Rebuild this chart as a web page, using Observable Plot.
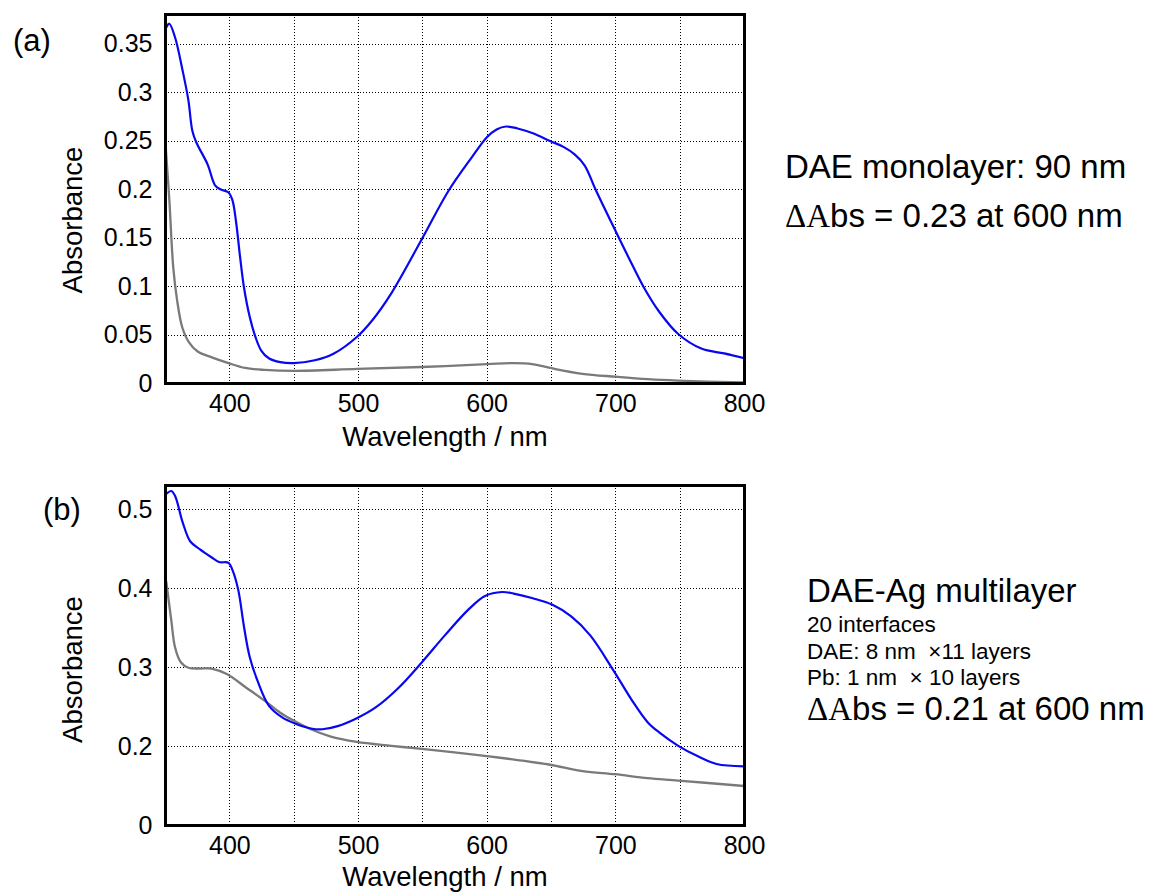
<!DOCTYPE html>
<html><head><meta charset="utf-8">
<script src="https://cdn.jsdelivr.net/npm/d3@7"></script>
<script src="https://cdn.jsdelivr.net/npm/@observablehq/plot@0.6"></script>
<style>
body{margin:0;background:#fff;}
#wrap{position:relative;width:1155px;height:893px;overflow:hidden;background:#fff;font-family:"Liberation Sans",Arial,sans-serif;}
#wrap svg.pl{display:block;}
#ann{position:absolute;left:0;top:0;pointer-events:none;}
</style></head><body><div id="wrap"></div>
<script>
// ---- axes ----
const xTicks = [400, 500, 600, 700, 800];
const gridXs = [400, 450, 500, 550, 600, 650, 700, 750];
const yTicksA = [0, 0.05, 0.1, 0.15, 0.2, 0.25, 0.3, 0.35];
const yLabelsA = ["0", "0.05", "0.1", "0.15", "0.2", "0.25", "0.3", "0.35"];
const yTicksB = [0.1, 0.2, 0.3, 0.4, 0.5];
const yLabelsB = ["0", "0.2", "0.3", "0.4", "0.5"];

// ---- (a) DAE monolayer ----
const aBlueW = [351,353,357.4,363.4,367.8,370.8,373.8,382.7,388.7,393.1,399,402,405,408,411,415.4,419.9,424.4,430.3,439.2,449.6,466,480.9,498.7,510.6,525.5,549.3,570.1,587.9,599.8,607.3,614.7,623.6,635.5,648.9,659.3,668.2,675.7,684.6,699.5,709.9,721.8,733.7,748.5,766.4,784.2,800];
const aBlueA = [0.368,0.371,0.357,0.322,0.292,0.261,0.249,0.226,0.204,0.200,0.197,0.189,0.165,0.130,0.099,0.069,0.048,0.034,0.026,0.022,0.021,0.024,0.031,0.048,0.065,0.093,0.149,0.199,0.233,0.254,0.262,0.265,0.263,0.258,0.250,0.244,0.236,0.225,0.199,0.158,0.130,0.099,0.074,0.051,0.036,0.031,0.026];
const aGrayW = [350,353,356,359,363,368,375,386,399,412,427,450,499,549,600,621,635,649,674,700,725,748,800];
const aGrayA = [0.247,0.189,0.120,0.086,0.058,0.043,0.033,0.027,0.021,0.016,0.014,0.013,0.015,0.017,0.020,0.021,0.020,0.016,0.010,0.007,0.0045,0.003,0.001];

// ---- (b) DAE-Ag multilayer ----
const bBlueW = [351,354.5,357.4,363.4,369.3,376.8,385.7,391.6,399,402,406.5,411,415.4,421.4,430.3,440.7,451.1,463,471.9,483.8,498.7,513.6,531.4,549.3,567.1,585,598.3,611.7,620.6,635.5,650.4,665.3,680.1,698,712.8,724.7,733.7,748.5,763.4,778.3,800];
const bBlueA = [0.521,0.524,0.518,0.484,0.460,0.450,0.440,0.434,0.433,0.424,0.399,0.352,0.314,0.284,0.252,0.237,0.229,0.223,0.222,0.226,0.236,0.250,0.275,0.307,0.341,0.373,0.391,0.396,0.394,0.388,0.380,0.365,0.341,0.297,0.258,0.231,0.218,0.201,0.188,0.178,0.175];
const bGrayW = [350.6,354.5,357.4,361.9,367.8,376.8,385.7,397.6,412.5,427.3,439.2,449.6,463,477.9,498.7,525.5,549.3,599.8,623.6,648.9,674.2,699.5,724.7,748.5,800];
const bGrayA = [0.409,0.360,0.326,0.307,0.300,0.299,0.299,0.292,0.275,0.258,0.243,0.233,0.222,0.213,0.206,0.201,0.197,0.188,0.183,0.177,0.169,0.165,0.160,0.157,0.150];

const zip = (w, a) => w.map((x, i) => ({w: x, a: a[i]}));

function panel({blue, gray, yDomain, yTicks, yLabels, height, marginTop, marginBottom, xLabDy, yLabDy}) {
  const fmt = d => { const i = yTicks.findIndex(t => Math.abs(t - d) < 1e-9); return i < 0 ? "" : yLabels[i]; };
  const gridStyle = {stroke: "black", strokeOpacity: 1, strokeWidth: 1, strokeDasharray: "1,2", shapeRendering: "crispEdges"};
  const svg = Plot.plot({
    width: 760, height, marginLeft: 165, marginRight: 16, marginTop, marginBottom,
    style: {fontFamily: "'Liberation Sans', Arial, sans-serif", fontSize: "25px", color: "black", background: "white", overflow: "visible"},
    x: {domain: [350, 800], ticks: xTicks, tickFormat: d => String(d), tickSize: 0, tickPadding: 11, label: null},
    y: {domain: yDomain, ticks: yTicks, tickFormat: fmt, tickSize: 0, tickPadding: 13, label: null},
    marks: [
      Plot.gridX(gridXs, gridStyle),
      Plot.gridY(yTicks, gridStyle),
      Plot.line(gray, {x: "w", y: "a", stroke: "#7a7a7a", strokeWidth: 2.3, curve: "catmull-rom", clip: true}),
      Plot.line(blue, {x: "w", y: "a", stroke: "#0808f0", strokeWidth: 2.2, curve: "catmull-rom", clip: true}),
      Plot.frame({stroke: "black", strokeWidth: 3}),
      Plot.text(["Wavelength / nm"], {text: d => d, frameAnchor: "bottom", dx: -10, dy: xLabDy, lineAnchor: "middle", fontSize: 27.5}),
      Plot.text(["Absorbance"], {text: d => d, frameAnchor: "left", dx: -84, dy: yLabDy, rotate: -90, lineAnchor: "bottom", textAnchor: "middle", fontSize: 27.5})
    ]
  });
  svg.classList.add("pl");
  return svg;
}

const wrap = document.getElementById("wrap");
wrap.appendChild(panel({blue: zip(aBlueW, aBlueA), gray: zip(aGrayW, aGrayA), yDomain: [0, 0.3805], yTicks: yTicksA, yLabels: yLabelsA, height: 460, marginTop: 14, marginBottom: 77, xLabDy: 54, yLabDy: 21}));
wrap.appendChild(panel({blue: zip(bBlueW, bBlueA), gray: zip(bGrayW, bGrayA), yDomain: [0.1, 0.531], yTicks: yTicksB, yLabels: yLabelsB, height: 433, marginTop: 25, marginBottom: 68, xLabDy: 52, yLabDy: 14}));

// ---- annotations ----
const notes = [
  {x: 13, y: 51, size: 31, parts: [["(a)"]]},
  {x: 43, y: 520, size: 31, parts: [["(b)"]]},
  {x: 785, y: 178, size: 33, parts: [["DAE monolayer: 90 nm"]]},
  {x: 785, y: 227, size: 33, parts: [["\u0394A", "serif"], ["bs = 0.23 at 600 nm"]]},
  {x: 807, y: 602, size: 33, parts: [["DAE-Ag multilayer"]]},
  {x: 807, y: 632, size: 22.5, parts: [["20 interfaces"]]},
  {x: 807, y: 659, size: 22.5, parts: [["DAE: 8 nm \u00a0\u00d711 layers"]]},
  {x: 807, y: 685, size: 22.5, parts: [["Pb: 1 nm \u00a0\u00d7 10 layers"]]},
  {x: 807, y: 720, size: 33, parts: [["\u0394A", "serif"], ["bs = 0.21 at 600 nm"]]}
];
const ann = d3.select(wrap).append("svg").attr("id", "ann").attr("width", 1155).attr("height", 893);
for (const n of notes) {
  const t = ann.append("text").attr("x", n.x).attr("y", n.y).attr("font-size", n.size)
    .attr("font-family", "'Liberation Sans', Arial, sans-serif").attr("fill", "black");
  for (const [s, f] of n.parts) {
    const sp = t.append("tspan").text(s);
    if (f === "serif") sp.attr("font-family", "'Liberation Serif', 'Times New Roman', serif");
  }
}
</script></body></html>
